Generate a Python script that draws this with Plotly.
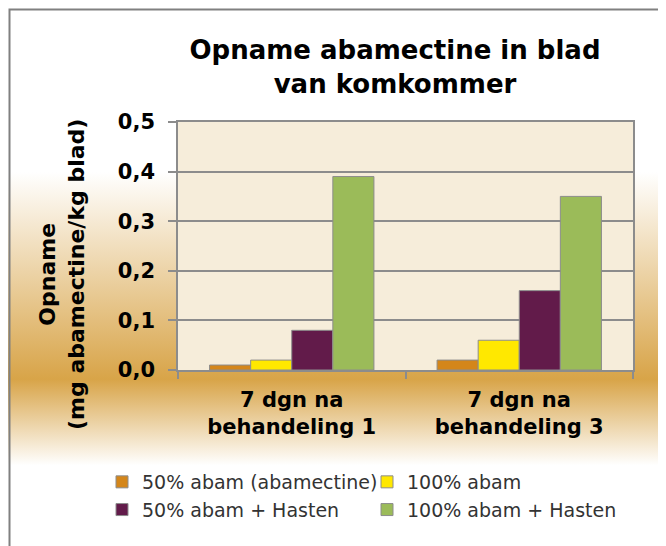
import plotly.graph_objects as go

categories = ["7 dgn na<br>behandeling 1", "7 dgn na<br>behandeling 3"]
series_names = ["50% abam (abamectine)", "100% abam", "50% abam + Hasten", "100% abam + Hasten"]
series_colors = ["#D4861A", "#FFE800", "#621B4A", "#9BBB59"]
vals_50 = [0.01, 0.02]
vals_100 = [0.02, 0.06]
vals_50_hasten = [0.08, 0.16]
vals_100_hasten = [0.39, 0.35]
y_ticks = [0.0, 0.1, 0.2, 0.3, 0.4, 0.5]

series_values = [vals_50, vals_100, vals_50_hasten, vals_100_hasten]

# figure is shown with an 8px page margin, so it is 8px smaller than the window
W, H = 658, 538
L, R, T, B = 170, 33, 114, 176
PW, PH = W - L - R, H - T - B

fig = go.Figure()
for name, col, vals in zip(series_names, series_colors, series_values):
    fig.add_trace(go.Bar(
        x=categories, y=vals, name=name,
        marker=dict(color=col, line=dict(color="#8C8C8C", width=1)),
    ))

svg = ("data:image/svg+xml;utf8,"
       "<svg xmlns='http://www.w3.org/2000/svg' width='658' height='538' preserveAspectRatio='none'>"
       "<defs><linearGradient id='g' x1='0' y1='0' x2='0' y2='1'>"
       "<stop offset='0' stop-color='%23FFFFFF'/>"
       "<stop offset='0.305' stop-color='%23FFFFFF'/>"
       "<stop offset='0.69' stop-color='%23D8A448'/>"
       "<stop offset='0.85' stop-color='%23FFFFFF'/>"
       "<stop offset='1' stop-color='%23FFFFFF'/>"
       "</linearGradient></defs>"
       "<rect x='0' y='0' width='658' height='538' fill='url(%23g)'/></svg>")

fig.add_layout_image(dict(
    source=svg, xref="paper", yref="paper",
    x=-L / PW, y=1 + T / PH, sizex=W / PW, sizey=H / PH,
    xanchor="left", yanchor="top", sizing="stretch", layer="below",
))

# plot area fill
fig.add_shape(type="rect", xref="x domain", yref="y domain", x0=0, x1=1, y0=0, y1=1,
              fillcolor="#F6EDDA", line=dict(width=0), layer="below")
# outer chart frame (top and left edges visible)
fig.add_shape(type="rect", xref="paper", yref="paper",
              x0=(1.5 - L) / PW, x1=(W + 20 - L) / PW,
              y0=(H - B - (H + 20)) / PH, y1=(H - B - 1.5) / PH,
              line=dict(color="#808080", width=2), fillcolor="rgba(0,0,0,0)", layer="above")

fig.add_annotation(
    text="Opname<br>(mg abamectine/kg blad)", textangle=-90,
    xref="paper", yref="paper",
    x=(54 - L) / PW, y=(H - B - 267) / PH, xanchor="center", yanchor="middle",
    showarrow=False, font=dict(family="DejaVu Sans", size=22, color="#000000", weight="bold"),
)

fig.update_layout(
    width=W, height=H,
    margin=dict(l=L, r=R, t=T, b=B, autoexpand=False),
    paper_bgcolor="#FFFFFF",
    plot_bgcolor="#F6EDDA",
    separators=",.",
    barmode="group", bargap=0.2775, bargroupgap=0,
    font=dict(family="DejaVu Sans", color="#000000"),
    title=dict(
        text="<b>Opname abamectine in blad<br>van komkommer</b>",
        x=387 / W, xanchor="center", y=1 - 51 / H, yanchor="top",
        font=dict(family="DejaVu Sans", size=26, color="#000000"),
    ),
    showlegend=True,
    legend=dict(
        orientation="h", x=(94 - L) / PW, xanchor="left",
        y=(H - B - 455) / PH, yanchor="top",
        font=dict(family="DejaVu Sans", size=19, color="#333333"),
        entrywidth=220, entrywidthmode="pixels",
        bgcolor="rgba(0,0,0,0)", traceorder="normal",
    ),
    xaxis=dict(
        showline=True, linecolor="#8C8C8C", linewidth=1.5, mirror=True,
        ticks="outside", tickson="boundaries", ticklen=7, tickcolor="#8C8C8C", tickwidth=1.5,
        tickfont=dict(family="DejaVu Sans", size=21, color="#000000", weight="bold"),
        ticklabelstandoff=10,
        showgrid=False,
    ),
    yaxis=dict(
        range=[0, 0.5], tickvals=y_ticks, tickformat=".1f",
        showline=True, linecolor="#8C8C8C", linewidth=1.5, mirror=True,
        ticks="outside", ticklen=8, tickcolor="#8C8C8C", tickwidth=1.5,
        showgrid=True, gridcolor="#8C8C8C", gridwidth=1.5, zeroline=False,
        tickfont=dict(family="DejaVu Sans", size=21, color="#000000", weight="bold"),
        ticklabelstandoff=9,
    ),
)

fig.write_html("out.html")
